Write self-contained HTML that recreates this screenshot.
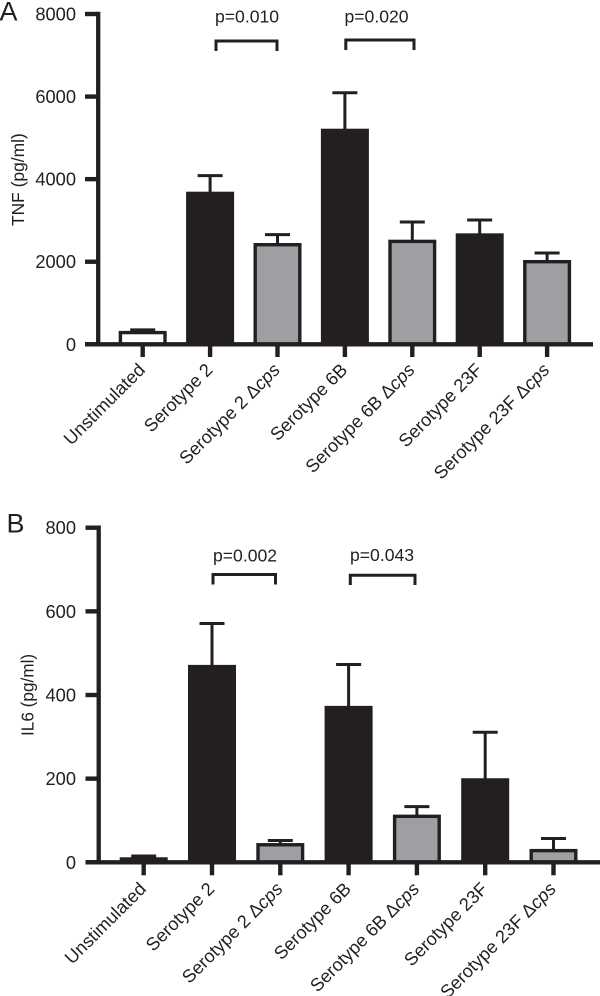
<!DOCTYPE html>
<html lang="en">
<head>
<meta charset="utf-8">
<title>TNF and IL6 by serotype</title>
<style>
html,body{margin:0;padding:0;background:#fff;width:600px;height:996px;overflow:hidden}
svg{display:block}
text{font-family:"Liberation Sans",Arial,sans-serif;fill:#231f20}
</style>
</head>
<body>
<svg id="chart" xmlns="http://www.w3.org/2000/svg" width="600" height="996" viewBox="0 0 600 996">
  <text x="-0.5" y="20.7" font-size="27">A</text>
  <text x="6.5" y="532.3" font-size="27">B</text>
  <text transform="translate(24 226) rotate(-90)" font-size="17.4">TNF (pg/ml)</text>
  <text transform="translate(33.3 736) rotate(-90)" font-size="17.2">IL6 (pg/ml)</text>

  <path d="M216 51V41H277V51" fill="none" stroke="#231f20" stroke-width="3"/>
  <text x="215" y="22.5" font-size="17.6">p=0.010</text>
  <path d="M345.8 50V40H414V50" fill="none" stroke="#231f20" stroke-width="3"/>
  <text x="344.5" y="22.5" font-size="17.6">p=0.020</text>
  <path d="M213 584.5V574.5H275.5V584.5" fill="none" stroke="#231f20" stroke-width="3"/>
  <text x="213" y="561.5" font-size="17.6">p=0.002</text>
  <path d="M350.3 585V575.3H415V585" fill="none" stroke="#231f20" stroke-width="3"/>
  <text x="350" y="561" font-size="17.6">p=0.043</text>
</svg>
<script>
const categories = ['Unstimulated', 'Serotype 2', 'Serotype 2 Δ|cps', 'Serotype 6B', 'Serotype 6B Δ|cps', 'Serotype 23F', 'Serotype 23F Δ|cps'];
const barKinds = ['white', 'black', 'grey', 'black', 'grey', 'black', 'grey'];
const tnfValues = [325, 3696, 2453, 5222, 2534, 2688, 2042];
const tnfUpper = [350, 4084, 2655, 6094, 2962, 3010, 2211];
const tnfTicks = [0, 2000, 4000, 6000, 8000];
const il6Values = [12, 472, 46, 374, 114, 201, 32];
const il6Upper = [15, 571, 52, 473, 133, 311, 57];
const il6Ticks = [0, 200, 400, 600, 800];

const INK = '#231f20';
const GREY = '#9d9fa2';
const NS = 'http://www.w3.org/2000/svg';
const svg = document.getElementById('chart');

function make(tag, attrs, parent) {
  const el = document.createElementNS(NS, tag);
  for (const k in attrs) el.setAttribute(k, attrs[k]);
  parent.appendChild(el);
  return el;
}

function drawPanel(p, values, upper, ticks) {
  const group = make('g', {}, svg);
  
  
  const yScale = v => p.y0 + (p.yTop - p.y0) * v / p.yMax;
  const xScale = i => p.x0 + p.step * i;

  categories.forEach((cat, i) => {
    const cx = xScale(i);
    const top = yScale(values[i]);
    const capY = yScale(upper[i]);

    const stem = make('line', { x1: cx, x2: cx, y1: top + 1, y2: capY, stroke: INK, 'stroke-width': 3 }, group);
    
    
    const cap = make('line', { x1: cx - 12.5, x2: cx + 12.5, y1: capY, y2: capY, stroke: INK, 'stroke-width': 3 }, group);
    
    

    const sw = barKinds[i] === 'black' ? 0 : 3.4;
    const fill = barKinds[i] === 'black' ? INK : (barKinds[i] === 'grey' ? GREY : '#fff');
    const bar = make('rect', {
      x: cx - 24 + sw / 2, y: top + sw / 2,
      width: 48 - sw, height: Math.max(0, p.y0 - top - sw / 2),
      fill: fill, stroke: INK, 'stroke-width': sw
    }, group);
    
    

    const tick = make('line', { x1: cx, x2: cx, y1: p.y0, y2: p.tickEnd, stroke: INK, 'stroke-width': 4.4 }, group);
    
    

    const lx = cx + 3.5;
    const ly = p.labelY;
    const label = make('text', { 'font-size': 18.2, 'text-anchor': 'end', transform: 'translate(' + lx + ' ' + ly + ') rotate(-45)' }, group);
    
    
    const parts = cat.split('|');
    label.appendChild(document.createTextNode(parts[0]));
    if (parts[1]) {
      const em = make('tspan', { 'font-style': 'italic' }, label);
      em.textContent = parts[1];
    }
  });

  const xAxis = make('line', { x1: p.axisLeft, x2: p.xEnd, y1: p.y0, y2: p.y0, stroke: INK, 'stroke-width': 4.4 }, group);
  
  
  const yAxis = make('line', { x1: p.axisX, x2: p.axisX, y1: p.yTop - 2.2, y2: p.y0, stroke: INK, 'stroke-width': 4.3 }, group);
  
  

  ticks.forEach(t => {
    const y = yScale(t);
    const tick = make('line', { x1: p.axisLeft, x2: p.axisX, y1: y, y2: y, stroke: INK, 'stroke-width': 4.4 }, group);
    
    
    const label = make('text', { x: 76, y: y + 6.5, 'font-size': 18.3, 'text-anchor': 'end' }, group);
    
    
    label.textContent = t;
  });
}

drawPanel({ name: 'tnf', y0: 344.3, yTop: 14, yMax: 8000, x0: 142.7, step: 67.4, tickEnd: 357, labelY: 371, axisX: 98.2, axisLeft: 85, xEnd: 593 }, tnfValues, tnfUpper, tnfTicks);
drawPanel({ name: 'il6', y0: 862.3, yTop: 527.7, yMax: 800, x0: 143.7, step: 68.3, tickEnd: 875.3, labelY: 890, axisX: 98.7, axisLeft: 85.5, xEnd: 600 }, il6Values, il6Upper, il6Ticks);
</script>
</body>
</html>
